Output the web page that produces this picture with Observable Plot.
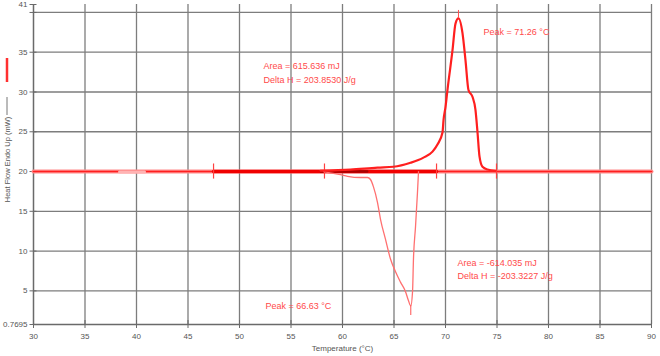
<!DOCTYPE html>
<html>
<head>
<meta charset="utf-8">
<script src="https://cdn.jsdelivr.net/npm/d3@7"></script>
<script src="https://cdn.jsdelivr.net/npm/@observablehq/plot@0.6"></script>
<style>
  html, body { margin: 0; padding: 0; background: #fff; }
  svg { display: block; }
</style>
</head>
<body>
<div id="chart"></div>
<script>
// ---- data ----
const heatT = [57.86, 60.78, 63.4, 64.95, 66.6, 67.86, 68.74, 69.22, 69.71, 69.81, 70.0, 70.19, 70.68, 70.97, 71.26, 71.65, 71.94, 72.23, 72.62, 72.91, 73.11, 73.3, 73.59, 74.08, 74.85];
const heatY = [20.1, 20.25, 20.5, 20.6, 21.1, 21.75, 22.5, 23.4, 24.9, 26.5, 28.1, 30.25, 35.25, 38.6, 39.25, 37.4, 34.0, 30.25, 29.4, 27.75, 24.9, 21.9, 20.6, 20.25, 20.1];

const coolT = [58.16, 58.54, 59.8, 60.49, 61.75, 62.43, 62.72, 63.0, 63.4, 63.69, 64.17, 64.66, 65.15, 65.63, 66.12, 66.41, 66.63, 66.8, 66.89, 67.09, 67.28, 67.38];
const coolY = [20.0, 19.9, 19.6, 19.4, 19.25, 19.25, 19.0, 18.1, 16.1, 14.0, 11.5, 9.0, 7.4, 6.1, 4.9, 3.75, 3.1, 4.9, 9.0, 13.1, 17.4, 20.0];

const baselineY = 20;
const xRange = [30, 90];
const heatIntegration = [47.48, 69.13];   // thick baseline segment
const darkSegment = [57.9, 62.4];
const faintSegment = [38.35, 40.78];
const limitTemps = [47.48, 58.25, 69.13, 74.95];

const peakTemps = [71.26, 66.63];
const peakY1 = [39.25, 3.1];
const peakY2 = [40.25, 1.9];

const xTicks = [30, 35, 40, 45, 50, 55, 60, 65, 70, 75, 80, 85, 90];
const yTicks = [0.7695, 5, 10, 15, 20, 25, 30, 35, 40, 41];
const yLabelled = [0.7695, 5, 10, 15, 20, 25, 30, 35, 41];
const xGrid = [35, 40, 45, 50, 55, 60, 65, 70, 75, 80, 85, 90];
const yGrid = [5, 10, 15, 20, 25, 30, 35, 40];

const noteText = ["Area = 615.636 mJ", "Delta H = 203.8530 J/g", "Peak = 71.26 °C", "Peak = 66.63 °C", "Area = -614.035 mJ", "Delta H = -203.3227 J/g"];
const noteX = [52.33, 52.33, 73.69, 52.52, 71.17, 71.17];
const noteY = [33.25, 31.5, 37.5, 3.1, 8.5, 6.85];

const xTitle = "Temperature (°C)";
const yTitle = "Heat Flow Endo Up (mW)";

// ---- build tables ----
const heat = heatT.map((t, i) => ({t, y: heatY[i]}));
const cool = coolT.map((t, i) => ({t, y: coolY[i]}));
const notes = noteText.map((s, i) => ({s, x: noteX[i], y: noteY[i]}));
const peaks = peakTemps.map((t, i) => ({t, y1: peakY1[i], y2: peakY2[i]}));
const seg = (a) => a.map(t => ({t, y: baselineY}));

const FONT = "'Liberation Sans', Arial, sans-serif";
const RED = "#ff1f1f";

const plot = Plot.plot({
  width: 660,
  height: 356,
  marginLeft: 33,
  marginRight: 9,
  marginTop: 4,
  marginBottom: 32,
  style: {fontFamily: FONT, background: "#fff", overflow: "visible"},
  x: {domain: [30, 90], label: null},
  y: {domain: [0.7695, 41], label: null},
  marks: [
    Plot.gridX(xGrid, {stroke: "#7d7d7d", strokeOpacity: 1, strokeWidth: 1.3}),
    Plot.gridY(yGrid, {stroke: "#7d7d7d", strokeOpacity: 1, strokeWidth: 1.3}),
    Plot.ruleX([30], {stroke: "#6a6a6a", strokeWidth: 1.5}),
    Plot.ruleY([0.7695], {stroke: "#6a6a6a", strokeWidth: 1.5}),
    // axis ticks crossing the axis lines
    Plot.axisX({ticks: xTicks, tickSize: 8, dy: -4, tickFormat: () => "", stroke: "#6a6a6a"}),
    Plot.axisY({ticks: yTicks, tickSize: 7, dx: 3.5, tickFormat: () => "", stroke: "#6a6a6a"}),
    Plot.axisX({ticks: xTicks, tickSize: 0, tickPadding: 9, fontSize: 8, fill: "#555", label: null}),
    Plot.axisY({ticks: yLabelled, tickSize: 0, tickPadding: 6, fontSize: 8, fill: "#555", label: null,
      tickFormat: d => d === 0.7695 ? "0.7695" : String(d)}),
    // baseline (full width) with halo
    Plot.line(seg(xRange), {x: "t", y: "y", stroke: "#ff8c8c", strokeWidth: 4}),
    Plot.line(seg(xRange), {x: "t", y: "y", stroke: RED, strokeWidth: 1.6}),
    Plot.line(seg(faintSegment), {x: "t", y: d => d.y - 0.05, stroke: "#ffb3b3", strokeWidth: 3}),
    Plot.line(seg(heatIntegration), {x: "t", y: "y", stroke: "#f00000", strokeWidth: 3.5}),
    Plot.line(seg(darkSegment), {x: "t", y: "y", stroke: "#a80000", strokeWidth: 2.4}),
    // integration limit markers
    Plot.ruleX(limitTemps, {y1: 19.05, y2: 20.95, stroke: "#ff4040", strokeWidth: 1.2}),
    // cooling curve (exotherm)
    Plot.line(cool, {x: "t", y: "y", stroke: "#ff7070", strokeWidth: 1.3, curve: "monotone-x"}),
    // heating curve (endotherm)
    Plot.line(heat, {x: "t", y: "y", stroke: RED, strokeWidth: 2.2, curve: "monotone-x"}),
    // peak markers
    Plot.ruleX(peaks, {x: "t", y1: "y1", y2: "y2", stroke: "#ff5050", strokeWidth: 1}),
    // annotations
    Plot.text(notes, {x: "x", y: "y", text: "s", textAnchor: "start", fontSize: 9, fill: "#ff4a4a"}),
    // axis titles
    Plot.text([xTitle], {frameAnchor: "bottom", dy: 26, fontSize: 8, fill: "#555"}),
    Plot.text([yTitle], {frameAnchor: "left", textAnchor: "middle", dx: -26, dy: -5, rotate: -90, fontSize: 7.5, fill: "#555"})
  ]
});

document.getElementById("chart").appendChild(plot);

// legend swatches beside the y-axis title
const svg = d3.select(plot);
svg.append("line").attr("x1", 7).attr("x2", 7).attr("y1", 58).attr("y2", 82)
  .attr("stroke", "#ff3030").attr("stroke-width", 2.5);
svg.append("line").attr("x1", 7).attr("x2", 7).attr("y1", 97).attr("y2", 115)
  .attr("stroke", "#777").attr("stroke-width", 1);
</script>
</body>
</html>
